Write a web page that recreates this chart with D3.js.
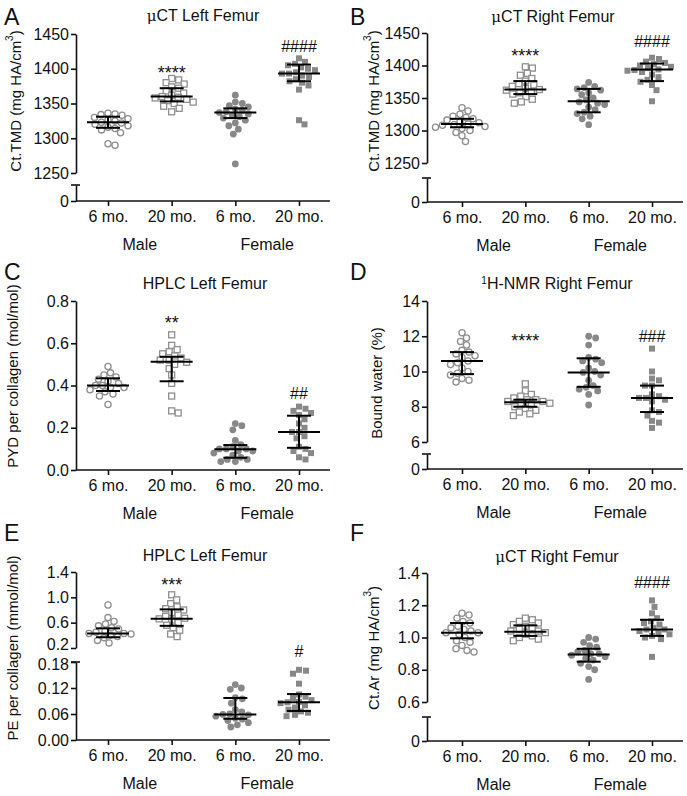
<!DOCTYPE html>
<html><head><meta charset="utf-8">
<script src="https://cdn.jsdelivr.net/npm/d3@7"></script>
<style>
body{margin:0;background:#fff}
svg{display:block}
text{font-family:"Liberation Sans",Arial,Helvetica,sans-serif;fill:#111}
</style>
</head><body>
<svg id="chart" width="687" height="796"></svg>
<script>
// ---------- categories ----------
const groupLabels = ["6 mo.", "20 mo.", "6 mo.", "20 mo."];
const sexLabels = ["Male", "Female"];

// ---------- Panel A: uCT Left Femur, Ct.TMD ----------
const aM6  = [1336,1335,1334,1333,1330,1328,1326,1325,1323,1322,1320,1318,1316,1314,1312,1308,1292,1290];
const aM20 = [1386,1384,1380,1378,1374,1372,1368,1365,1362,1360,1359,1358,1356,1354,1352,1350,1346,1343,1338];
const aF6  = [1362,1352,1350,1347,1345,1342,1340,1338,1337,1335,1333,1331,1329,1326,1322,1318,1313,1306,1263];
const aF20 = [1415,1410,1407,1405,1402,1400,1398,1395,1393,1393,1390,1388,1385,1382,1380,1376,1370,1326,1320];
const aMed = [1323,1360,1337,1393], aLo = [1315,1353,1329,1382], aHi = [1331,1372,1343,1406];
const aTicks = [1250,1300,1350,1400,1450];
const aSig = [[1,"****",1401],[3,"####",1432]];

// ---------- Panel B: uCT Right Femur, Ct.TMD ----------
const bM6  = [1335,1330,1325,1322,1320,1318,1316,1314,1312,1310,1309,1308,1306,1305,1303,1300,1297,1292,1283];
const bM20 = [1398,1396,1388,1385,1380,1376,1372,1370,1368,1365,1363,1362,1360,1358,1356,1352,1348,1344,1342];
const bF6  = [1374,1368,1366,1364,1362,1358,1355,1350,1347,1344,1342,1340,1336,1332,1328,1326,1322,1318,1309];
const bF20 = [1412,1410,1406,1404,1402,1400,1398,1396,1394,1393,1392,1390,1386,1382,1378,1375,1370,1362,1345];
const bMed = [1310,1363,1345,1394], bLo = [1305,1356,1328,1376], bHi = [1318,1376,1364,1403];
const bTicks = [1250,1300,1350,1400,1450];
const bSig = [[1,"****",1422],[3,"####",1437]];

// ---------- Panel C: HPLC Left Femur, PYD ----------
const cM6  = [0.49,0.46,0.45,0.44,0.43,0.42,0.41,0.40,0.40,0.39,0.39,0.38,0.37,0.36,0.35,0.31];
const cM20 = [0.64,0.59,0.57,0.56,0.55,0.54,0.53,0.52,0.52,0.51,0.50,0.48,0.45,0.41,0.35,0.28,0.27];
const cF6  = [0.22,0.21,0.19,0.14,0.12,0.11,0.10,0.10,0.10,0.09,0.09,0.08,0.07,0.06,0.05,0.05,0.04,0.04];
const cF20 = [0.30,0.29,0.28,0.27,0.26,0.24,0.22,0.20,0.18,0.18,0.16,0.15,0.11,0.10,0.09,0.08,0.06,0.05];
const cMed = [0.40,0.513,0.098,0.18], cLo = [0.374,0.42,0.058,0.105], cHi = [0.434,0.536,0.118,0.257];
const cTicks = [0,0.2,0.4,0.6,0.8];
const cSig = [[1,"**",0.718],[3,"##",0.363]];

// ---------- Panel D: 1H-NMR Right Femur, bound water ----------
const dM6  = [12.2,11.9,11.7,11.5,11.2,11.1,11.0,10.9,10.8,10.6,10.5,10.4,10.2,10.0,9.9,9.8,9.6,9.5,9.4];
const dM20 = [9.3,8.9,8.7,8.6,8.5,8.4,8.4,8.3,8.3,8.2,8.2,8.1,8.0,7.9,7.8,7.7,7.6,7.5];
const dF6  = [12.0,11.9,11.5,10.8,10.7,10.6,10.5,10.2,10.0,9.95,9.8,9.5,9.2,9.1,9.0,8.9,8.7,8.1];
const dF20 = [11.3,10.0,9.6,9.5,9.2,9.2,8.7,8.6,8.5,8.5,8.4,8.3,7.8,7.7,7.5,7.2,7.1,6.8];
const dMed = [10.6,8.25,9.95,8.5], dLo = [9.85,8.0,9.13,7.7], dHi = [11.1,8.4,10.75,9.2];
const dTicks = [6,8,10,12,14];
const dSig = [[1,"****",12.0],[3,"###",12.0]];

// ---------- Panel E: HPLC Left Femur, PE (split axis) ----------
const eM6  = [0.88,0.68,0.62,0.58,0.55,0.52,0.50,0.47,0.45,0.43,0.43,0.42,0.40,0.38,0.36,0.32,0.28];
const eM20 = [1.04,0.96,0.90,0.85,0.82,0.80,0.76,0.72,0.70,0.67,0.66,0.64,0.60,0.56,0.52,0.48,0.42,0.38];
const eF6  = [0.128,0.120,0.117,0.098,0.095,0.085,0.070,0.065,0.060,0.059,0.058,0.055,0.050,0.048,0.045,0.040,0.035,0.030];
const eF20 = [0.162,0.160,0.153,0.130,0.105,0.100,0.097,0.092,0.088,0.087,0.085,0.080,0.075,0.070,0.066,0.063,0.058,0.055];
const eMed = [0.43,0.66,0.059,0.087], eLo = [0.37,0.55,0.049,0.067], eHi = [0.51,0.81,0.097,0.106];
const eTicksUpper = [0.2,0.6,1.0,1.4];
const eTicksLower = [0,0.06,0.12,0.18];
const eSig = [[1,"***",1.27],[3,"#",0.205]];

// ---------- Panel F: uCT Right Femur, Ct.Ar ----------
const fM6  = [1.15,1.14,1.12,1.10,1.09,1.07,1.06,1.05,1.04,1.03,1.03,1.02,1.00,0.98,0.97,0.95,0.93,0.92,0.91];
const fM20 = [1.12,1.11,1.10,1.09,1.08,1.07,1.06,1.05,1.04,1.04,1.03,1.02,1.01,1.00,0.99,0.98];
const fF6  = [1.00,0.99,0.97,0.95,0.94,0.92,0.91,0.90,0.90,0.89,0.88,0.87,0.86,0.84,0.82,0.80,0.74];
const fF20 = [1.23,1.19,1.15,1.12,1.10,1.09,1.08,1.06,1.05,1.05,1.04,1.03,1.02,1.01,1.00,0.99,0.88];
const fMed = [1.03,1.035,0.895,1.05], fLo = [0.995,1.01,0.85,1.01], fHi = [1.09,1.075,0.93,1.11];
const fTicks = [0.6,0.8,1.0,1.2,1.4];
const fSig = [[3,"####",1.344]];

// ---------- drawing ----------
const svg = d3.select("#chart");
const openCol = "#8f8f8f", fillCol = "#888888";
const FS = 16;

const panels = [
  {letter:"A", title:[["μ",true],["CT Left Femur",false]], ylab:"Ct.TMD (mg HA/cm", ysup:"3", yend:")",
   groups:[aM6,aM20,aF6,aF20], med:aMed, lo:aLo, hi:aHi, sig:aSig,
   main:{domain:[1250,1450], ticks:aTicks, fmt:d3.format("d")},
   geo:{ax:76, xe:330, p0:108, p1:299, yTop:34, yBot:173, brk:185, base:201, lx:4, ly:25, tx:203, ty:21, yx:15, yy:101}},
  {letter:"B", title:[["μ",true],["CT Right Femur",false]], ylab:"Ct.TMD (mg HA/cm", ysup:"3", yend:")",
   groups:[bM6,bM20,bF6,bF20], med:bMed, lo:bLo, hi:bHi, sig:bSig,
   main:{domain:[1250,1450], ticks:bTicks, fmt:d3.format("d")},
   geo:{ax:427, xe:683, p0:462, p1:652, yTop:33, yBot:163, brk:178, base:202, lx:350, ly:25, tx:553, ty:22, yx:373, yy:101}},
  {letter:"C", title:[["HPLC Left Femur",false]], ylab:"PYD per collagen (mol/mol)",
   groups:[cM6,cM20,cF6,cF20], med:cMed, lo:cLo, hi:cHi, sig:cSig,
   main:{domain:[0,0.8], ticks:cTicks, fmt:d3.format(".1f")},
   geo:{ax:76, xe:330, p0:108, p1:299, yTop:301, yBot:470, brk:null, base:470, lx:4, ly:280, tx:205, ty:289, yx:12, yy:376}},
  {letter:"D", title:[["1",false,true],["H-NMR Right Femur",false]], ylab:"Bound water (%)",
   groups:[dM6,dM20,dF6,dF20], med:dMed, lo:dLo, hi:dHi, sig:dSig,
   main:{domain:[6,14], ticks:dTicks, fmt:d3.format("d")},
   geo:{ax:427, xe:683, p0:462, p1:652, yTop:301, yBot:442, brk:454, base:469, lx:350, ly:280, tx:557, ty:289, yx:376, yy:383}},
  {letter:"E", title:[["HPLC Left Femur",false]], ylab:"PE per collagen (mmol/mol)",
   groups:[eM6,eM20,eF6,eF20], med:eMed, lo:eLo, hi:eHi, sig:eSig, split:true,
   main:{domain:[0.2,1.4], ticks:eTicksUpper, fmt:d3.format(".1f")},
   lower:{domain:[0,0.18], ticks:eTicksLower, fmt:d3.format(".2f")},
   geo:{ax:76, xe:330, p0:108, p1:299, yTop:572, yBot:648, brk:662, base:740, lx:4, ly:541, tx:205, ty:561, yx:12, yy:648}},
  {letter:"F", title:[["μ",true],["CT Right Femur",false]], ylab:"Ct.Ar (mg HA/cm", ysup:"3", yend:")",
   groups:[fM6,fM20,fF6,fF20], med:fMed, lo:fLo, hi:fHi, sig:fSig,
   main:{domain:[0.6,1.4], ticks:fTicks, fmt:d3.format(".1f")},
   geo:{ax:427, xe:683, p0:462, p1:652, yTop:573, yBot:702, brk:717, base:741, lx:350, ly:541, tx:557, ty:562, yx:373, yy:648}}
];

function swarm(ys, d) {
  const order = ys.map((y, i) => i).sort((a, b) => ys[a] - ys[b]);
  const placed = [], out = new Array(ys.length);
  for (const i of order) {
    const y = ys[i];
    let off = 0;
    for (let k = 0; k < 400; k++) {
      const c = (k % 2 ? 1 : -1) * Math.ceil(k / 2) * 0.5;
      if (placed.every(p => (p.x - c) ** 2 + (p.y - y) ** 2 >= d * d)) { off = c; break; }
    }
    placed.push({x: off, y}); out[i] = off;
  }
  return out;
}

function styleAxis(sel) {
  sel.selectAll("text").attr("font-size", FS).style("font-family", "'Liberation Sans',Arial,sans-serif").attr("fill", "#111");
  sel.selectAll("line,path").attr("stroke", "#111").attr("stroke-width", 1.6);
}

panels.forEach(P => {
  const G = P.geo;
  const g = svg.append("g");
  const yMain = d3.scaleLinear().domain(P.main.domain).range([G.yBot, G.yTop]);
  let yLower = null;
  if (P.split) yLower = d3.scaleLinear().domain(P.lower.domain).range([G.base, G.brk]);
  const yFor = gi => (P.split && gi >= 2) ? yLower : yMain;
  const x = d3.scalePoint().domain([0,1,2,3]).range([G.p0, G.p1]);

  // panel letter
  g.append("text").attr("x", G.lx).attr("y", G.ly).attr("font-size", 23).text(P.letter);
  // title
  const t = g.append("text").attr("x", G.tx).attr("y", G.ty).attr("text-anchor", "middle").attr("font-size", FS);
  P.title.forEach(([s, serif, sup]) => {
    const ts = t.append("tspan").text(s);
    if (serif) ts.style("font-family", "'DejaVu Serif','Liberation Serif',serif").attr("font-size", FS - 1);
    if (sup) ts.attr("font-size", 10).attr("baseline-shift", "super");
  });
  // y label
  const yl = g.append("text").attr("transform", `translate(${G.yx},${G.yy}) rotate(-90)`)
    .attr("text-anchor", "middle").attr("dominant-baseline", "central").attr("font-size", 15);
  yl.append("tspan").text(P.ylab);
  if (P.ysup) {
    yl.append("tspan").text(P.ysup).attr("font-size", 10).attr("baseline-shift", "super");
    yl.append("tspan").text(P.yend);
  }

  // y axis (main)
  const ya = g.append("g").attr("transform", `translate(${G.ax},0)`)
    .call(d3.axisLeft(yMain).tickValues(P.main.ticks).tickFormat(P.main.fmt).tickSize(5).tickSizeOuter(0).tickPadding(2));
  styleAxis(ya);
  if (P.split) ya.selectAll(".tick text").filter(d => d === P.main.domain[0]).attr("dy", "0.1em");

  // lower segment
  if (G.brk !== null) {
    let lowScale, lowTicks, lowFmt;
    if (P.split) { lowScale = yLower; lowTicks = P.lower.ticks; lowFmt = P.lower.fmt; }
    else { lowScale = d3.scaleLinear().domain([0, 1]).range([G.base, G.brk]); lowTicks = [0]; lowFmt = d3.format("d"); }
    const la = g.append("g").attr("transform", `translate(${G.ax},0)`)
      .call(d3.axisLeft(lowScale).tickValues(lowTicks).tickFormat(lowFmt).tickSize(5).tickSizeOuter(0).tickPadding(2));
    styleAxis(la);
    if (P.split) la.selectAll(".tick text").filter(d => d === P.lower.domain[1]).attr("dy", "0.45em");
    g.append("line").attr("x1", G.ax - 5).attr("x2", G.ax + 4).attr("y1", G.brk).attr("y2", G.brk)
      .attr("stroke", "#111").attr("stroke-width", 1.6);
  }

  // x axis
  const xa = g.append("g").attr("transform", `translate(0,${G.base})`)
    .call(d3.axisBottom(x).tickFormat(i => groupLabels[i]).tickSize(5).tickSizeOuter(0).tickPadding(5));
  xa.select(".domain").remove();
  styleAxis(xa);
  g.append("line").attr("x1", G.ax).attr("x2", G.xe).attr("y1", G.base).attr("y2", G.base)
    .attr("stroke", "#111").attr("stroke-width", 1.6);
  // sex labels
  sexLabels.forEach((s, si) => {
    g.append("text").attr("x", (x(si * 2) + x(si * 2 + 1)) / 2).attr("y", G.base + 49)
      .attr("text-anchor", "middle").attr("font-size", FS).text(s);
  });

  // points
  P.groups.forEach((vals, gi) => {
    const ys = yFor(gi);
    const py = vals.map(v => ys(v));
    const offs = swarm(py, 6.8);
    const cx = x(gi);
    const gg = g.append("g");
    const isSq = gi % 2 === 1, filled = gi >= 2;
    vals.forEach((v, i) => {
      if (isSq) {
        gg.append("rect").attr("x", cx + offs[i] - 3).attr("y", py[i] - 3).attr("width", 6).attr("height", 6)
          .attr("fill", filled ? fillCol : "#fff").attr("stroke", filled ? "none" : openCol).attr("stroke-width", 1.3);
      } else {
        gg.append("circle").attr("cx", cx + offs[i]).attr("cy", py[i]).attr("r", filled ? 3.4 : 3.1)
          .attr("fill", filled ? fillCol : "#fff").attr("stroke", filled ? "none" : openCol).attr("stroke-width", 1.3);
      }
    });
  });

  // median + IQR bars
  P.groups.forEach((vals, gi) => {
    const ys = yFor(gi), cx = x(gi);
    const m = ys(P.med[gi]), l = ys(P.lo[gi]), h = ys(P.hi[gi]);
    const st = sel => sel.attr("stroke", "#000").attr("stroke-width", 2);
    st(g.append("line").attr("x1", cx - 21).attr("x2", cx + 21).attr("y1", m).attr("y2", m));
    st(g.append("line").attr("x1", cx).attr("x2", cx).attr("y1", l).attr("y2", h));
    st(g.append("line").attr("x1", cx - 12).attr("x2", cx + 12).attr("y1", l).attr("y2", l));
    st(g.append("line").attr("x1", cx - 12).attr("x2", cx + 12).attr("y1", h).attr("y2", h));
  });

  // significance marks
  P.sig.forEach(([gi, txt, v]) => {
    const ys = yFor(gi);
    const star = txt[0] === "*";
    const fs = star ? 18 : 16;
    g.append("text").attr("x", x(gi)).attr("y", ys(v) + (star ? 0.62 * fs : 0.36 * fs))
      .attr("text-anchor", "middle").attr("font-size", fs).text(txt);
  });
});
</script>
</body></html>
